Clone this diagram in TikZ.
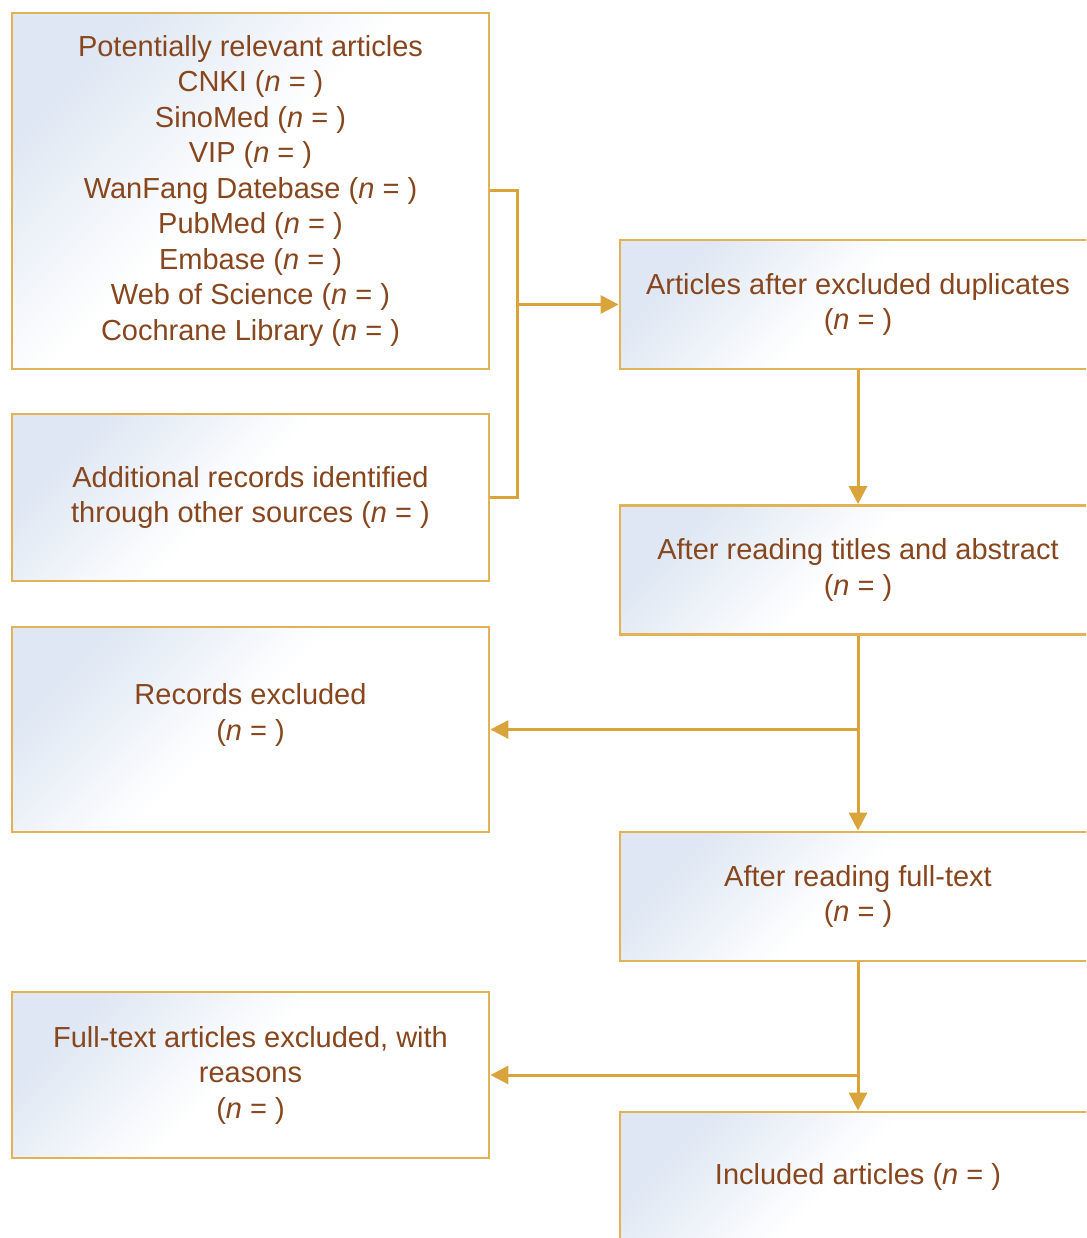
\documentclass[tikz,border=0pt]{standalone}
\usepackage{fontspec}
\setmainfont{Liberation Sans}
\usetikzlibrary{%
	arrows.meta,%
	positioning,%
}
\definecolor{cgold}{RGB}{226, 178, 86}
\definecolor{cgolddark}{RGB}{218, 164, 60}
\definecolor{cbrown}{RGB}{136, 70, 30}
\definecolor{cbluelight}{RGB}{222, 231, 243}
\pgfdeclareverticalshading{boxfade}{100bp}{%
	color(0bp)=(white); color(25bp)=(white); color(52bp)=(white);%
	color(75bp)=(cbluelight); color(100bp)=(cbluelight)}
\tikzset{
	>={Triangle[length=18pt,width=18pt]},%
	nodes={align=center},%
	stagebox/.style={%
			draw=cgold,%
			rectangle,%
			line width=2.8pt,%
			shading=boxfade,%
			shading angle=45,%
			text=cbrown,%
			font={\fontsize{29}{35.5}\selectfont},%
			inner sep=0pt},%
	leftbox/.style={%
			stagebox,%
			minimum width=477pt},%
	rightbox/.style={%
			stagebox,%
			minimum width=476pt,%
			minimum height=129pt},%
	link/.style={%
			draw=cgolddark,%
			line width=3pt},%
}
\newcommand{\ncount}{(\textit{n} = )}

\begin{document}
\begin{tikzpicture}[x=1pt, y=-1pt]%
	\clip (0,0) rectangle (1086,1238);
	\fill[white] (0,0) rectangle (1086,1238);

	\node[leftbox, minimum height=356pt] (src) at (250.5,191) {Potentially relevant articles \\
			CNKI \ncount                                 \\
			SinoMed \ncount                              \\
			VIP \ncount                                  \\
			WanFang Datebase \ncount                     \\
			PubMed \ncount                               \\
			Embase \ncount                               \\
			Web of Science \ncount                       \\
			Cochrane Library \ncount};
	\node[leftbox, minimum height=167pt] (addl) at (250.5,497.5) {Additional records identified \\ through other sources \ncount};
	\node[leftbox, minimum height=205pt] (excl) at (250.5,729.5) {Records excluded \\ \ncount \\ ~};
	\node[leftbox, minimum height=166pt] (ftexcl) at (250.5,1075) {Full-text articles excluded, with \\ reasons \\ \ncount};

	\node[rightbox] (dedup) at (858,304.5) {Articles after excluded duplicates \\ \ncount};
	\node[rightbox] (screen) at (858,570) {After reading titles and abstract \\ \ncount};
	\node[rightbox] (full) at (858,896.5) {After reading full-text \\ \ncount};
	\node[rightbox] (incl) at (858,1176.5) {Included articles \ncount};

	\coordinate (merge) at (517,304.5);

	\draw[link] (src) -| (merge) |- (addl);
	\draw[link, ->] (merge) -- (dedup);
	\draw[link, ->] (dedup) -- (screen);
	\draw[link, ->] (screen) -- (full);
	\draw[link, ->] (screen) |- (excl);
	\draw[link, ->] (full) -- (incl);
	\draw[link, ->] (full) |- (ftexcl);
\end{tikzpicture}
\end{document}
